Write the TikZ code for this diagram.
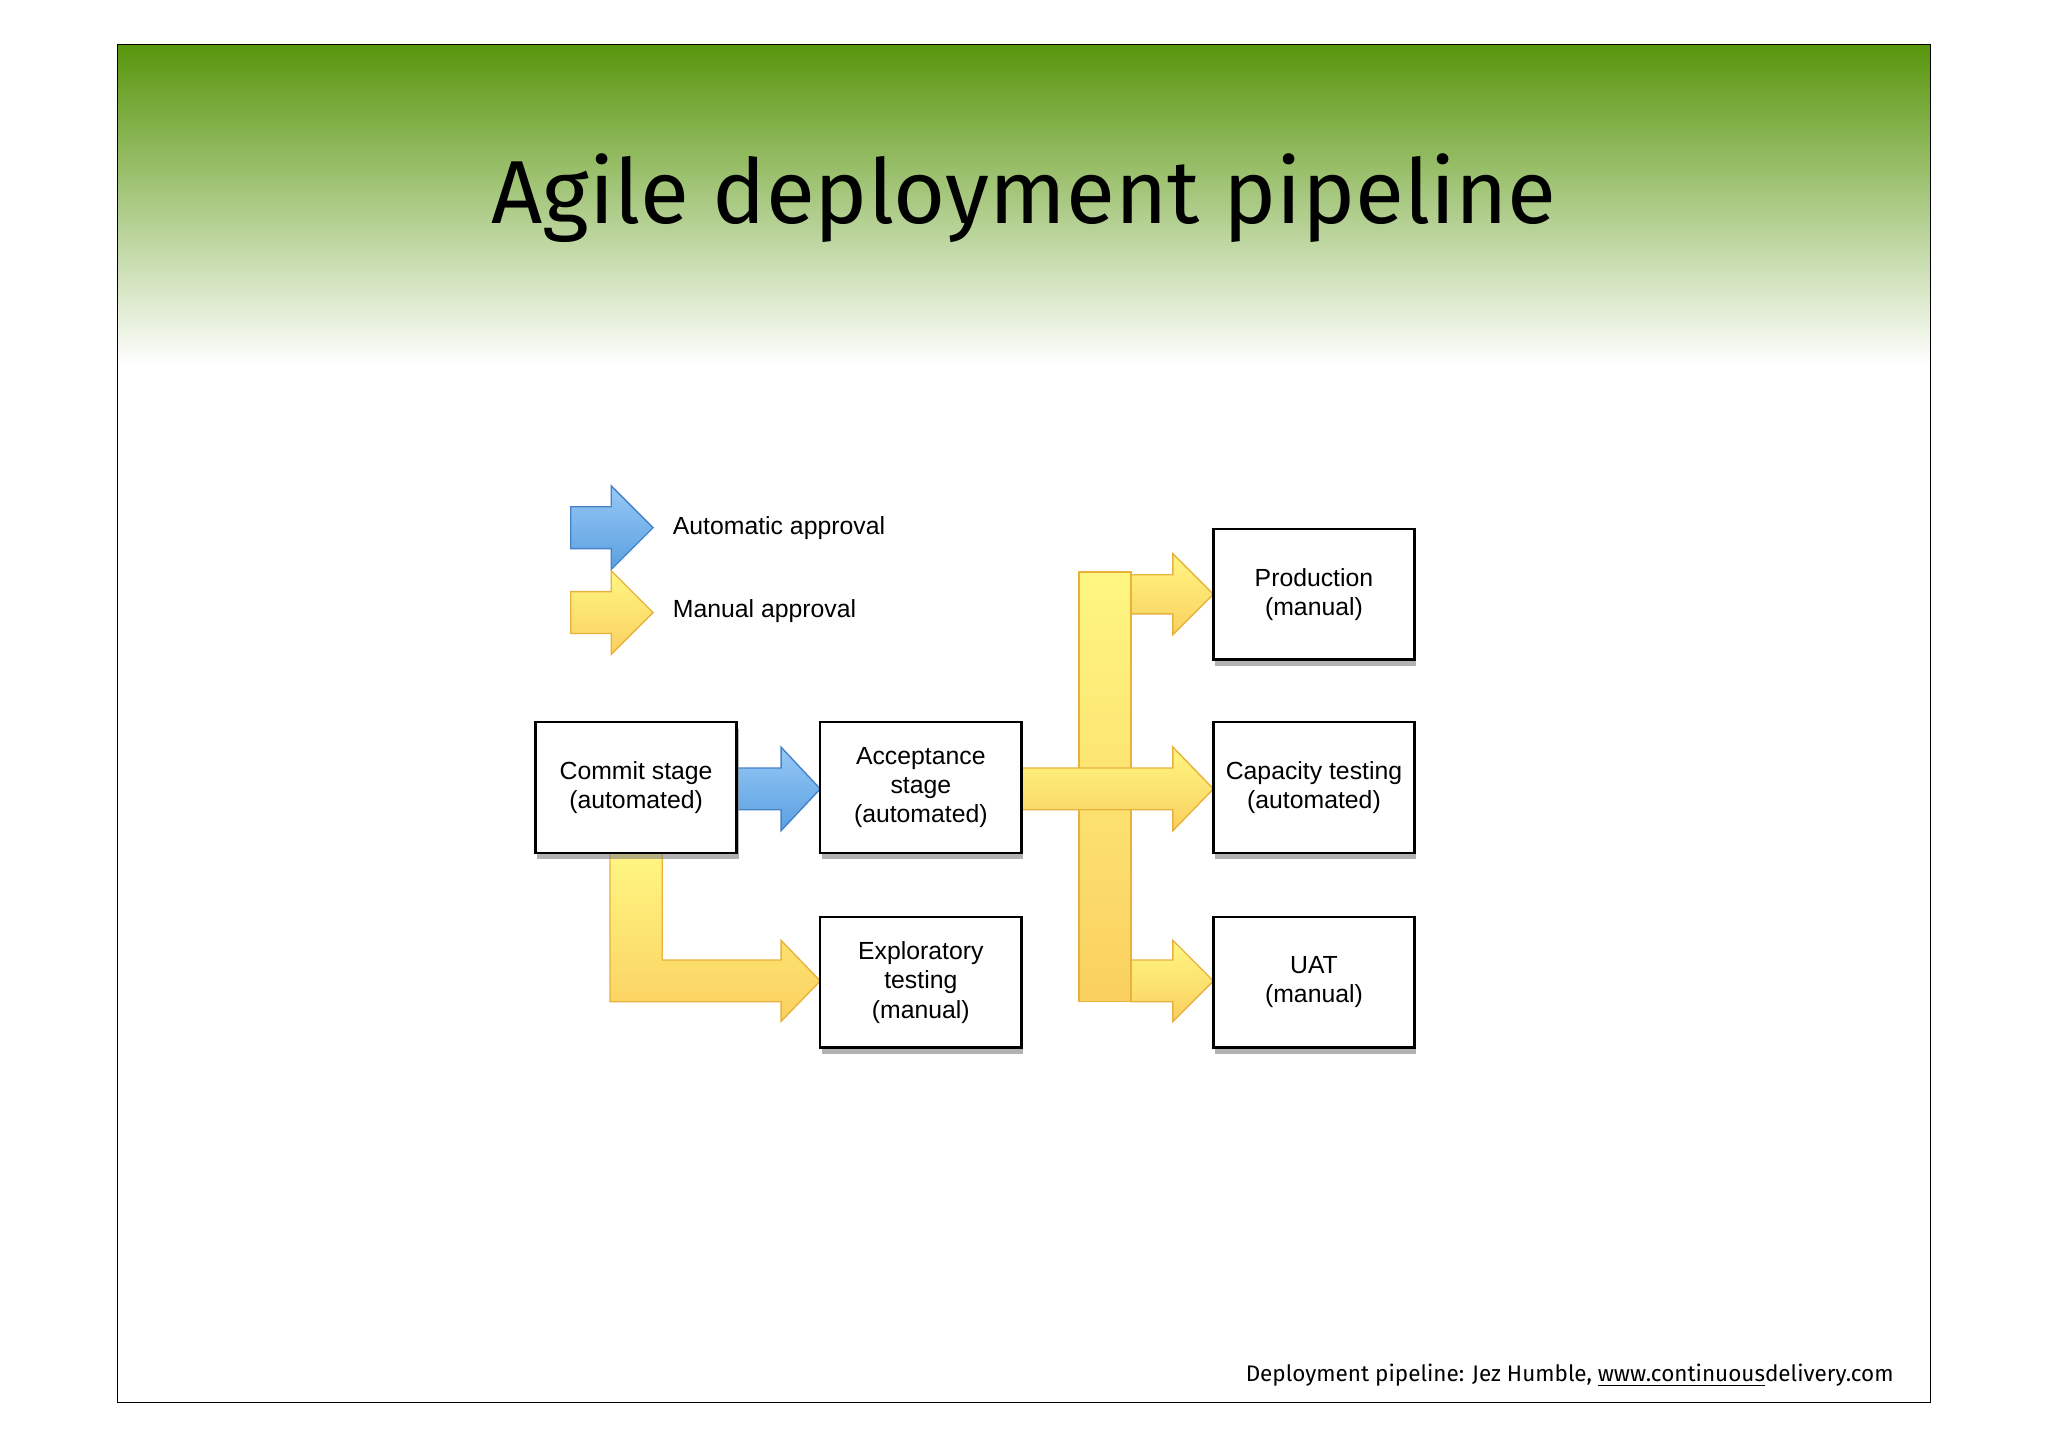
\documentclass[tikz,border=0pt]{standalone}
\usepackage{fontspec}
\setmainfont{Liberation Sans}
\newfontfamily\titlefont{Fira Sans}
\begin{document}
\begin{tikzpicture}[x=0.02cm,y=-0.02cm,
  stagebox/.style={draw=black,line width=1pt,fill=white,minimum width=3.08cm,minimum height=2cm,align=center,font=\fontsize{10.8}{12.8}\selectfont,inner sep=1pt,
    drop shadow={shadow xshift=0.03cm,shadow yshift=-0.1cm,opacity=0.6}},
  yarrow/.style={draw={rgb,255:red,232;green,178;blue,60},line width=0.6pt,top color={rgb,255:red,255;green,246;blue,130},bottom color={rgb,255:red,250;green,208;blue,96}},
  barrow/.style={draw={rgb,255:red,70;green,130;blue,200},line width=0.6pt,top color={rgb,255:red,150;green,200;blue,245},bottom color={rgb,255:red,90;green,160;blue,225}},
  lbl/.style={anchor=west,font=\fontsize{10.8}{12.8}\selectfont}]
\usetikzlibrary{shadows}
\useasboundingbox (0,0) rectangle (1568,1108);
\fill[white] (0,0) rectangle (1568,1108);
\shade[top color={rgb,255:red,88;green,150;blue,12},bottom color=white] (90,34) rectangle (1478,280);
\draw[line width=0.6pt] (90,34) rectangle (1478,1074);
\node[font=\titlefont\fontsize{39}{45}\selectfont] (title) at (784,152) {Agile deployment pipeline};
\node[anchor=east,font=\titlefont\fontsize{9.8}{12}\selectfont] (foot) at (1456,1053) {Deployment pipeline: Jez Humble, \underline{www.continuous}delivery.com};
% legend
\draw[barrow] (437,388) -- (468,388) -- (468,372) -- (500,404) -- (468,436) -- (468,420) -- (437,420) -- cycle;
\draw[yarrow] (437,453) -- (468,453) -- (468,437) -- (500,469) -- (468,501) -- (468,485) -- (437,485) -- cycle;
\node[lbl] (la) at (509,404) {Automatic approval};
\node[lbl] (lm) at (509,468) {Manual approval};
% arrows
\draw[barrow] (564,588) -- (598,588) -- (598,572) -- (628,604) -- (598,636) -- (598,620) -- (564,620) -- cycle;
\draw[yarrow] (467,653) -- (507,653) -- (507,735) -- (598,735) -- (598,720) -- (628,751) -- (598,782) -- (598,767) -- (467,767) -- cycle;
\draw[yarrow] (866,440) -- (898,440) -- (898,424) -- (929,455) -- (898,486) -- (898,470) -- (866,470) -- cycle;
\draw[yarrow] (866,735) -- (898,735) -- (898,720) -- (929,751) -- (898,782) -- (898,767) -- (866,767) -- cycle;
\draw[yarrow] (826,438) rectangle (866,767);
\draw[yarrow] (782,588) -- (898,588) -- (898,572) -- (929,604) -- (898,636) -- (898,620) -- (782,620) -- cycle;
% boxes
\node[stagebox] (commit) at (487,603) {Commit stage\\(automated)};
\node[stagebox] (accept) at (705,603) {Acceptance\\stage\\(automated)};
\node[stagebox] (explor) at (705,752) {Exploratory\\testing\\(manual)};
\node[stagebox] (prod) at (1006,455) {Production\\(manual)};
\node[stagebox] (cap) at (1006,603) {Capacity testing\\(automated)};
\node[stagebox] (uat) at (1006,752) {UAT\\(manual)};
\end{tikzpicture}
\end{document}
